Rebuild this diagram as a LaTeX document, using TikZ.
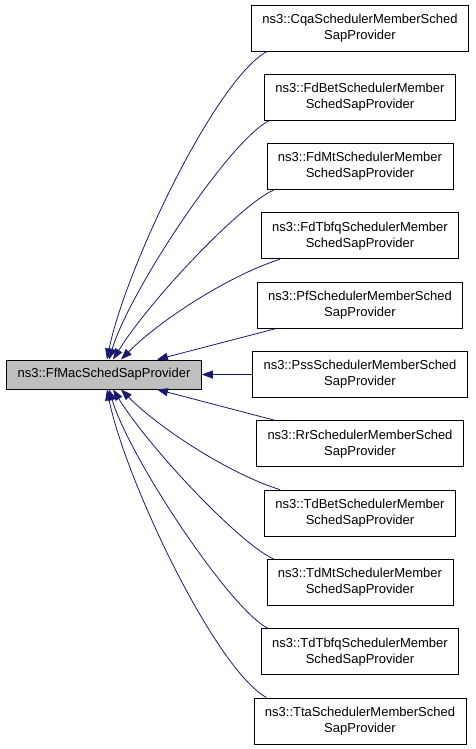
\documentclass[tikz,border=0pt]{standalone}
\usepackage{fontspec}
\setmainfont{Liberation Sans}
\usetikzlibrary{arrows.meta}
\definecolor{edgeblue}{HTML}{191970}
\definecolor{basegray}{HTML}{BFBFBF}
\tikzset{
  cls/.style={draw=black,line width=0.9pt,align=center,inner xsep=11pt,inner ysep=0pt,
    minimum height=46pt,font=\fontsize{13}{16}\selectfont},
  base/.style={cls,fill=basegray,minimum height=29pt},
  edge/.style={draw=edgeblue,line width=0.8pt,-{Triangle[length=11pt,width=8pt]}}
}
\begin{document}
\begin{tikzpicture}[x=1pt,y=-1pt]
\useasboundingbox (0,0) rectangle (475,749);
\node[base] (base) at (104,374.5) {ns3::FfMacSchedSapProvider};
\foreach \n/\t [count=\i from 0] in {cqa/ns3::CqaSchedulerMemberSched\\SapProvider,
  fdbet/ns3::FdBetSchedulerMember\\SchedSapProvider,
  fdmt/ns3::FdMtSchedulerMember\\SchedSapProvider,
  fdtbfq/ns3::FdTbfqSchedulerMember\\SchedSapProvider,
  pf/ns3::PfSchedulerMemberSched\\SapProvider,
  pss/ns3::PssSchedulerMemberSched\\SapProvider,
  rr/ns3::RrSchedulerMemberSched\\SapProvider,
  tdbet/ns3::TdBetSchedulerMember\\SchedSapProvider,
  tdmt/ns3::TdMtSchedulerMember\\SchedSapProvider,
  tdtbfq/ns3::TdTbfqSchedulerMember\\SchedSapProvider,
  tta/ns3::TtaSchedulerMemberSched\\SapProvider}
  \node[cls] (\n) at (360,28+69.3*\i) {\t};
% upper edges
\draw[edge] ([xshift=16pt]cqa.south west) .. controls (215,80) and (125,270) .. ([xshift=3pt]base.north);
\draw[edge] ([xshift=5pt]fdbet.south west) .. controls (230,140) and (130,290) .. ([xshift=5pt]base.north);
\draw[edge] ([xshift=7pt]fdmt.south west) .. controls (240,205) and (150,300) .. ([xshift=9pt]base.north);
\draw[edge] ([xshift=19pt]fdtbfq.south west) .. controls (230,275) and (160,320) .. ([xshift=17pt]base.north);
\draw[edge] ([xshift=19pt]pf.south west) -- ([xshift=53pt]base.north);
\draw[edge] (pss) -- (base);
% lower edges
\draw[edge] ([xshift=19pt]rr.north west) -- ([xshift=53pt]base.south);
\draw[edge] ([xshift=16pt]tdbet.north west) .. controls (230,474) and (160,429) .. ([xshift=17pt]base.south);
\draw[edge] ([xshift=7pt]tdmt.north west) .. controls (240,544) and (150,449) .. ([xshift=9pt]base.south);
\draw[edge] ([xshift=7pt]tdtbfq.north west) .. controls (230,609) and (130,459) .. ([xshift=5pt]base.south);
\draw[edge] ([xshift=13pt]tta.north west) .. controls (215,669) and (125,479) .. ([xshift=3pt]base.south);
\end{tikzpicture}
\end{document}
